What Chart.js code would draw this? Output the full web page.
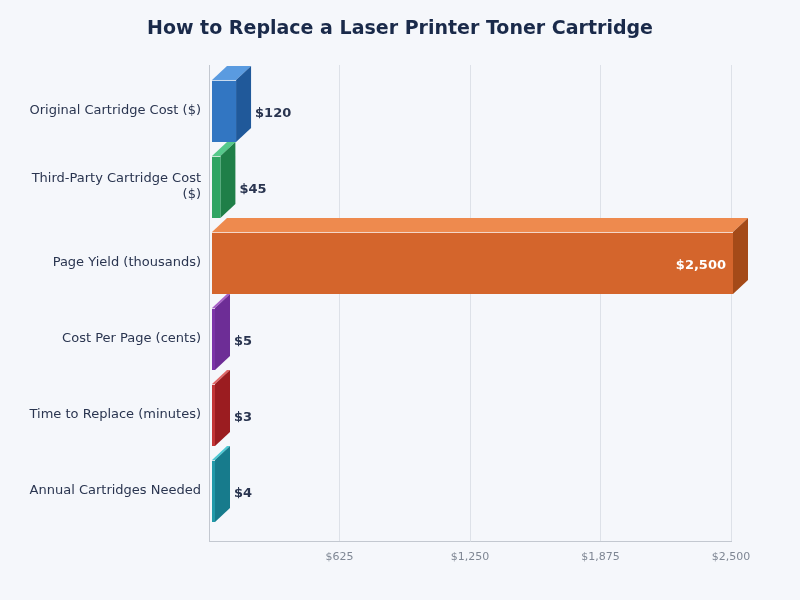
<!DOCTYPE html>
<html>
<head>
<meta charset="utf-8">
<style>
html, body { margin: 0; background: #f5f7fb; }
canvas { display: block; }
</style>
</head>
<body>
<canvas id="chart" width="800" height="600"></canvas>
<script src="https://cdn.jsdelivr.net/npm/chart.js@4"></script>
<script>
const categories = [
    'Original Cartridge Cost ($)',
    ['Third-Party Cartridge Cost', '($)'],
    'Page Yield (thousands)',
    'Cost Per Page (cents)',
    'Time to Replace (minutes)',
    'Annual Cartridges Needed'
];
const values = [120, 45, 2500, 5, 3, 4];
const xTicks = [625, 1250, 1875, 2500];
const frontColors = ['#3276c2', '#2fa563', '#d4652c', '#7c34a8', '#c23436', '#2199a8'];
const topColors = ['#5a9be0', '#56c98b', '#ee8a4e', '#a860c8', '#e06666', '#4cc9d4'];
const sideColors = ['#20599a', '#1f7f48', '#a44a18', '#6d2d96', '#9b1c20', '#177b8c'];

const DEPTH_X = 15;
const DEPTH_Y = 14;
const MIN_W = 4;
const FONT = '"DejaVu Sans", sans-serif';

function poly(ctx, pts, color) {
    ctx.fillStyle = color;
    ctx.beginPath();
    pts.forEach((p, i) => i ? ctx.lineTo(p[0], p[1]) : ctx.moveTo(p[0], p[1]));
    ctx.closePath();
    ctx.fill();
}

// draws each bar as a box, using the positions the scales gave the elements
const box3d = {
    id: 'box3d',
    beforeDatasetDraw(chart, args) {
        const ctx = chart.ctx;
        ctx.save();
        args.meta.data.forEach((bar, i) => {
            const left = bar.base + 3;
            const right = bar.base + 2 + Math.max(bar.x - bar.base, MIN_W);
            const top = bar.y - bar.height / 2;
            const bottom = bar.y + bar.height / 2;
            poly(ctx, [[left, top], [right, top], [right + DEPTH_X, top - DEPTH_Y], [left + DEPTH_X, top - DEPTH_Y]], topColors[i]);
            poly(ctx, [[right, top], [right + DEPTH_X, top - DEPTH_Y], [right + DEPTH_X, bottom - DEPTH_Y], [right, bottom]], sideColors[i]);
            poly(ctx, [[left, top], [right, top], [right, bottom], [left, bottom]], frontColors[i]);
            ctx.fillStyle = 'rgba(255,255,255,0.75)';
            ctx.fillRect(left, top, right - left, 1);
        });
        ctx.restore();
        return false;
    },
    afterDatasetsDraw(chart) {
        const ctx = chart.ctx;
        ctx.save();
        ctx.font = 'bold 13px ' + FONT;
        ctx.textBaseline = 'middle';
        chart.getDatasetMeta(0).data.forEach((bar, i) => {
            const text = '$' + values[i].toLocaleString('en-US');
            const right = bar.base + 2 + Math.max(bar.x - bar.base, MIN_W);
            if (right - bar.base > 100) {
                ctx.textAlign = 'right';
                ctx.fillStyle = '#ffffff';
                ctx.fillText(text, right - 7, bar.y + 2.5);
            } else {
                ctx.textAlign = 'left';
                ctx.fillStyle = '#2a3550';
                ctx.fillText(text, right + DEPTH_X + 4, bar.y + 2.5);
            }
        });
        ctx.restore();
    }
};

new Chart(document.getElementById('chart').getContext('2d'), {
    type: 'bar',
    plugins: [box3d],
    data: {
        datasets: [{
            data: values.map((v, i) => ({ x: v, y: i })),
            backgroundColor: frontColors,
            barThickness: 62
        }]
    },
    options: {
        indexAxis: 'y',
        responsive: false,
        animation: false,
        devicePixelRatio: 1,
        plugins: {
            legend: { display: false },
            tooltip: { enabled: false },
            title: {
                display: true,
                text: 'How to Replace a Laser Printer Toner Cartridge',
                color: '#1a2a4a',
                font: { family: FONT, size: 19, weight: 'bold' },
                padding: { top: 17.6, bottom: 24.6 }
            }
        },
        scales: {
            x: {
                type: 'linear',
                min: 0,
                max: 2500,
                afterBuildTicks(scale) {
                    scale.ticks = xTicks.map(v => ({ value: v }));
                },
                afterFit(scale) { scale.height = 59; },
                border: { color: '#c3c8d0' },
                grid: { color: '#dde1e8', drawTicks: false },
                ticks: {
                    color: '#7f8794',
                    font: { family: FONT, size: 11 },
                    padding: 10,
                    maxRotation: 0,
                    autoSkip: false,
                    callback: v => '$' + v.toLocaleString('en-US')
                }
            },
            y: {
                type: 'linear',
                reverse: true,
                offset: false,
                min: -0.605,
                max: 5.658,
                afterBuildTicks(scale) {
                    scale.ticks = categories.map((c, i) => ({ value: i }));
                },
                afterFit(scale) { scale.width = 209; },
                border: { color: '#c3c8d0' },
                grid: { display: false, drawTicks: false, tickLength: 0 },
                ticks: {
                    color: '#2a3550',
                    font: { family: FONT, size: 13, lineHeight: 1.23 },
                    padding: 8,
                    autoSkip: false,
                    callback: v => categories[v]
                }
            },
            // empty axis, only keeps the right margin without moving the title
            rightGap: {
                type: 'linear',
                axis: 'y',
                position: 'right',
                afterFit(scale) { scale.width = 69; },
                border: { display: false },
                grid: { display: false },
                ticks: { display: false }
            }
        }
    }
});
</script>
</body>
</html>
